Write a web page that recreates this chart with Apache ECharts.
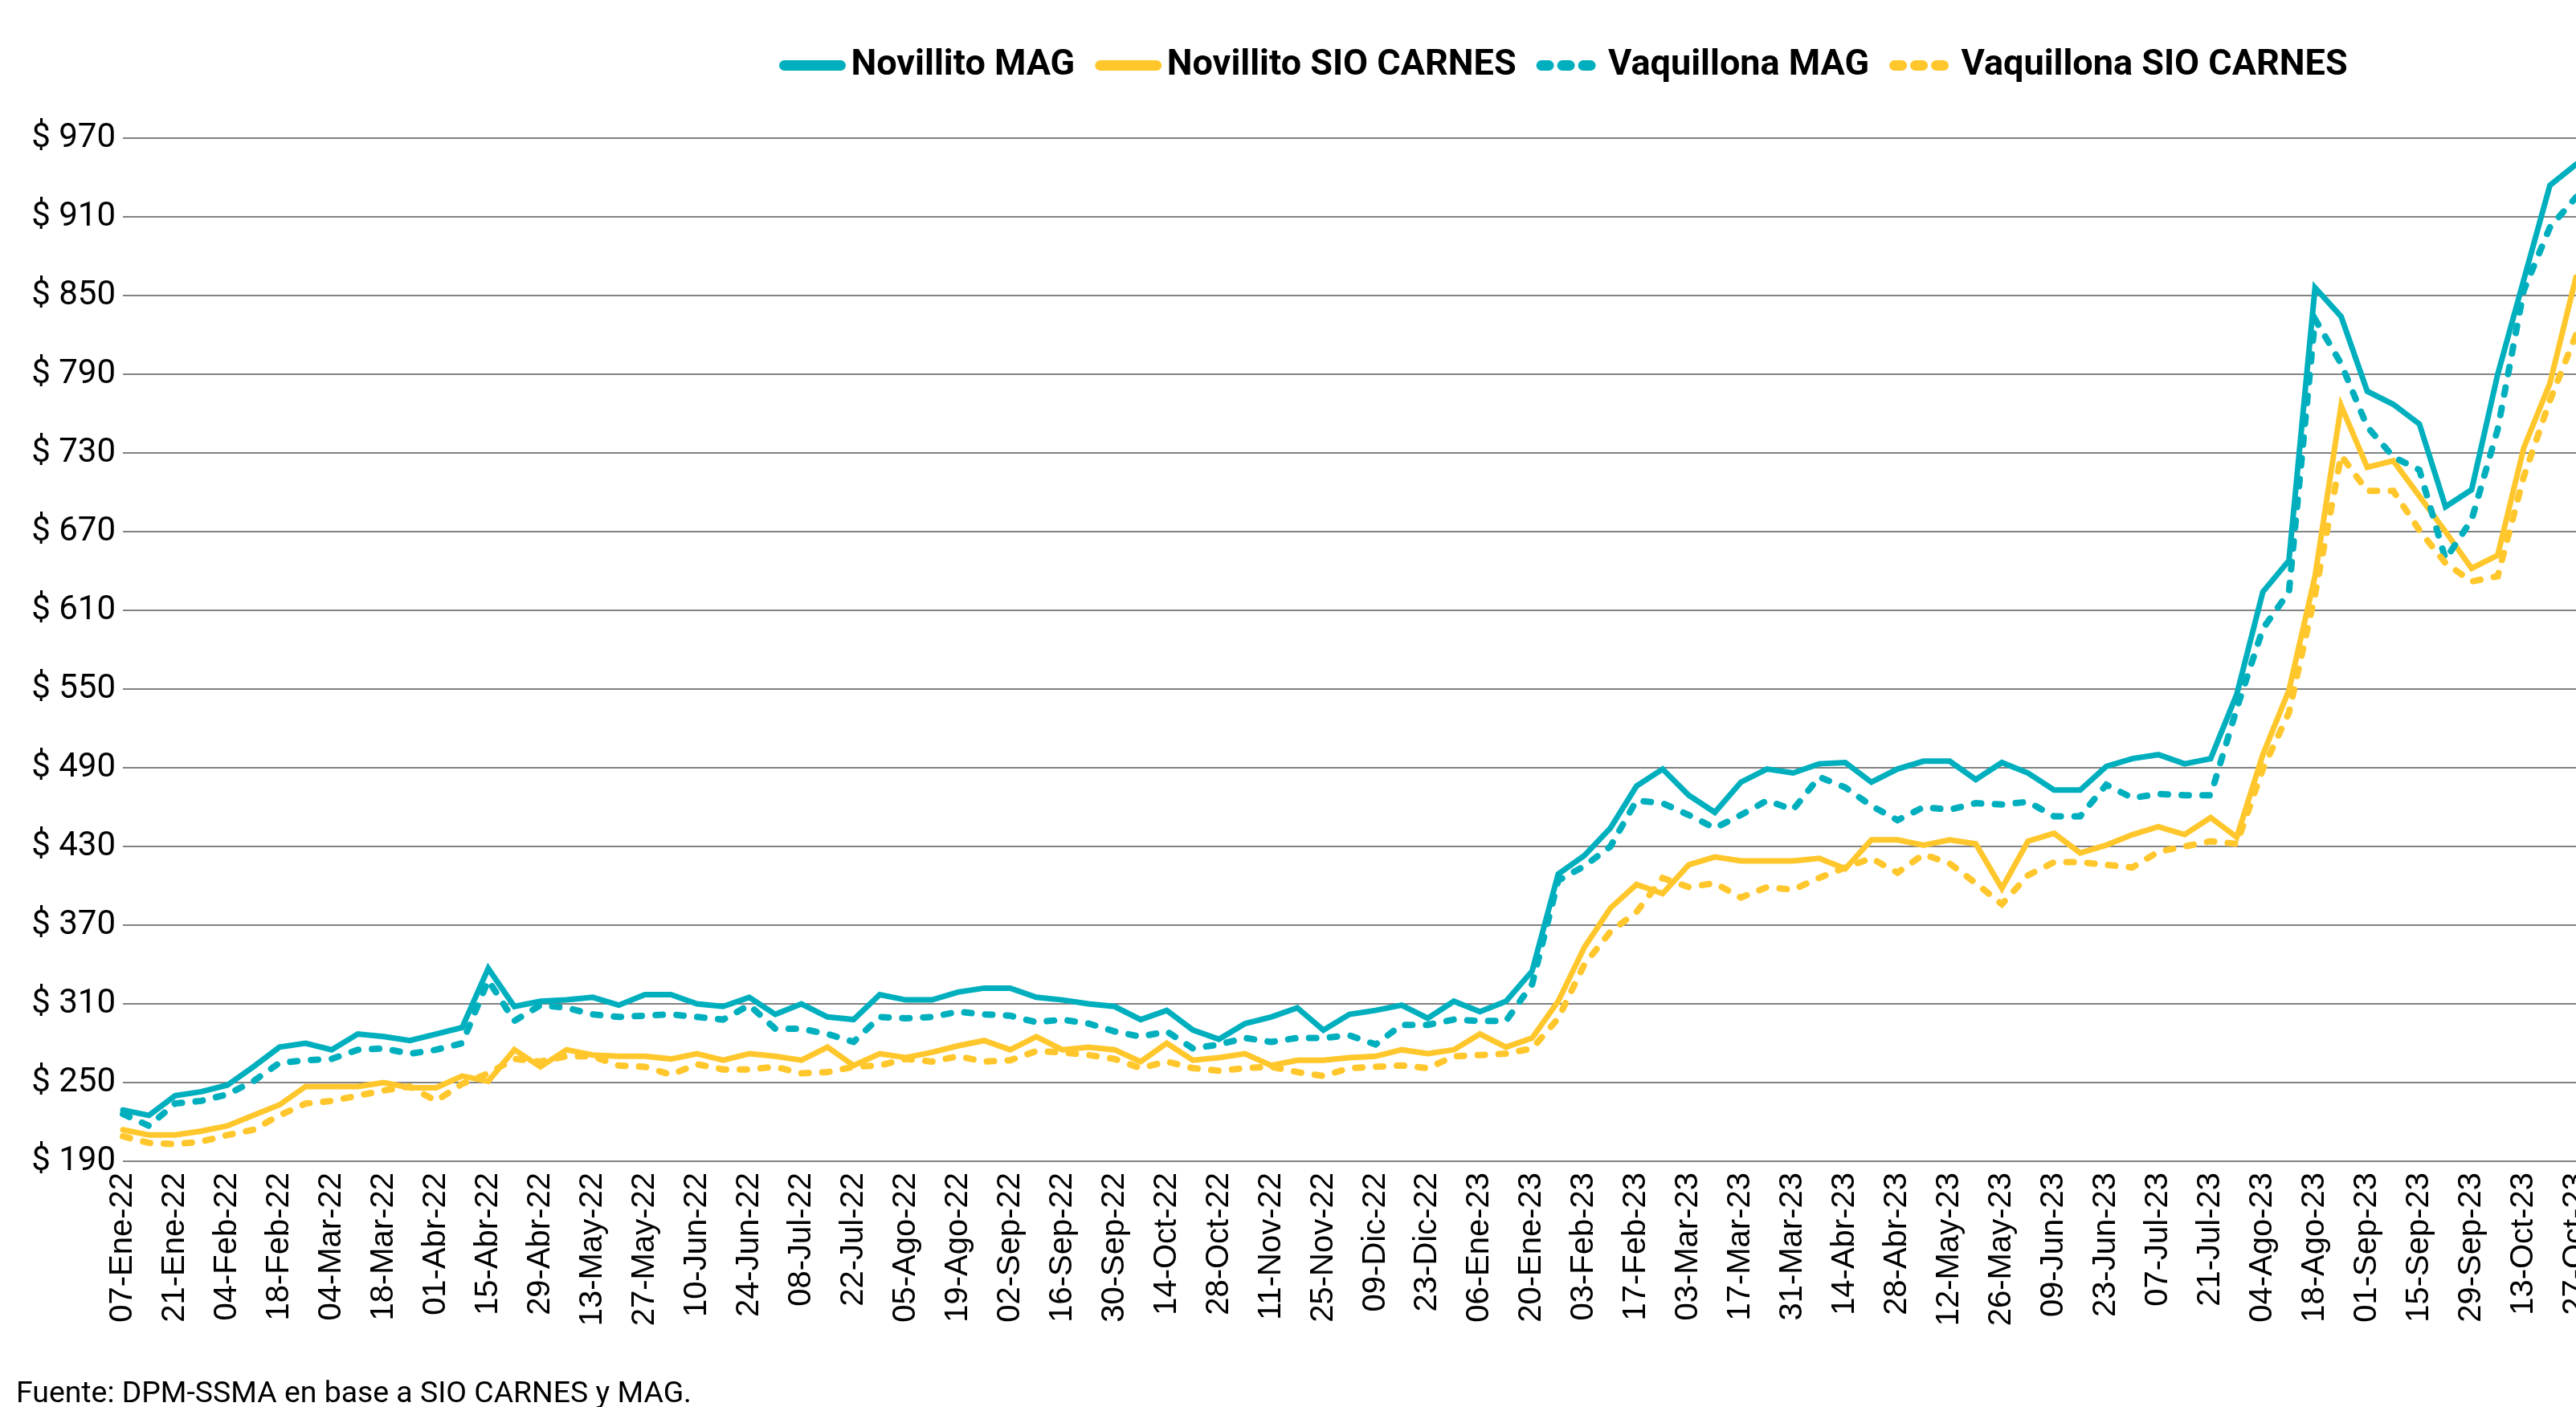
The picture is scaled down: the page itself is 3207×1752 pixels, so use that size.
<!DOCTYPE html>
<html>
<head>
<meta charset="utf-8">
<title>Precios Novillito y Vaquillona</title>
<script src="https://cdn.jsdelivr.net/npm/echarts@6/dist/echarts.min.js"></script>
<style>
  html, body { margin: 0; padding: 0; background: #fff; overflow: hidden; }
  #chart1 { width: 3207px; height: 1752px; }
</style>
</head>
<body>
<div id="chart1"></div>
<script>
// semanas (viernes)
var fechas = [
  "07-Ene-22", "14-Ene-22", "21-Ene-22", "28-Ene-22", "04-Feb-22", "11-Feb-22", "18-Feb-22", "25-Feb-22",
  "04-Mar-22", "11-Mar-22", "18-Mar-22", "25-Mar-22", "01-Abr-22", "08-Abr-22", "15-Abr-22", "22-Abr-22",
  "29-Abr-22", "06-May-22", "13-May-22", "20-May-22", "27-May-22", "03-Jun-22", "10-Jun-22", "17-Jun-22",
  "24-Jun-22", "01-Jul-22", "08-Jul-22", "15-Jul-22", "22-Jul-22", "29-Jul-22", "05-Ago-22", "12-Ago-22",
  "19-Ago-22", "26-Ago-22", "02-Sep-22", "09-Sep-22", "16-Sep-22", "23-Sep-22", "30-Sep-22", "07-Oct-22",
  "14-Oct-22", "21-Oct-22", "28-Oct-22", "04-Nov-22", "11-Nov-22", "18-Nov-22", "25-Nov-22", "02-Dic-22",
  "09-Dic-22", "16-Dic-22", "23-Dic-22", "30-Dic-22", "06-Ene-23", "13-Ene-23", "20-Ene-23", "27-Ene-23",
  "03-Feb-23", "10-Feb-23", "17-Feb-23", "24-Feb-23", "03-Mar-23", "10-Mar-23", "17-Mar-23", "24-Mar-23",
  "31-Mar-23", "07-Abr-23", "14-Abr-23", "21-Abr-23", "28-Abr-23", "05-May-23", "12-May-23", "19-May-23",
  "26-May-23", "02-Jun-23", "09-Jun-23", "16-Jun-23", "23-Jun-23", "30-Jun-23", "07-Jul-23", "14-Jul-23",
  "21-Jul-23", "28-Jul-23", "04-Ago-23", "11-Ago-23", "18-Ago-23", "25-Ago-23", "01-Sep-23", "08-Sep-23",
  "15-Sep-23", "22-Sep-23", "29-Sep-23", "06-Oct-23", "13-Oct-23", "20-Oct-23", "27-Oct-23"
];

var novillitoMag = [
  229, 225, 240, 243, 248, 262, 277, 280, 275, 287, 285, 282, 287, 292, 337, 308,
  312, 313, 315, 309, 317, 317, 310, 308, 315, 302, 310, 300, 298, 317, 313, 313,
  319, 322, 322, 315, 313, 310, 308, 298, 305, 290, 283, 295, 300, 307, 290, 302,
  305, 309, 299, 312, 304, 312, 335, 409, 423, 444, 476, 489, 469, 456, 479, 489,
  486, 493, 494, 479, 489, 495, 495, 481, 494, 486, 473, 473, 491, 497, 500, 493,
  497, 546, 624, 648, 856, 834, 777, 767, 752, 689, 702, 790, 862, 934, 950
];

var novillitoSio = [
  214, 210, 210, 213, 217, 225, 233, 247, 247, 247, 250, 246, 246, 255, 251, 275,
  262, 275, 271, 270, 270, 268, 272, 267, 272, 270, 267, 277, 263, 272, 269, 273,
  278, 282, 275, 285, 275, 277, 275, 266, 280, 267, 269, 272, 263, 267, 267, 269,
  270, 275, 272, 275, 287, 277, 284, 312, 353, 383, 401, 394, 416, 422, 419, 419,
  419, 421, 413, 435, 435, 431, 435, 432, 398, 434, 440, 425, 431, 439, 445, 439,
  452, 437, 500, 549, 636, 766, 719, 724, 697, 670, 642, 652, 734, 783, 864
];

var vaquillonaMag = [
  226, 217, 234, 236, 241, 251, 265, 267, 268, 275, 276, 272, 275, 280, 328, 297,
  309, 307, 302, 300, 301, 302, 300, 298, 309, 291, 291, 287, 281, 300, 299, 300,
  304, 302, 301, 296, 298, 295, 289, 285, 289, 276, 279, 284, 281, 284, 284, 286,
  279, 294, 294, 298, 297, 297, 325, 404, 415, 430, 465, 463, 454, 444, 454, 465,
  458, 483, 475, 461, 450, 460, 458, 463, 462, 464, 453, 453, 477, 467, 470, 469,
  469, 535, 596, 624, 832, 798, 750, 727, 717, 649, 679, 748, 854, 902, 925
];

var vaquillonaSio = [
  209, 204, 203, 205, 210, 214, 225, 234, 236, 240, 244, 247, 236, 249, 257, 268,
  266, 270, 270, 263, 262, 256, 264, 260, 260, 262, 257, 258, 262, 263, 268, 266,
  270, 266, 267, 274, 273, 271, 268, 261, 266, 261, 259, 261, 262, 258, 255, 261,
  262, 263, 261, 270, 271, 272, 276, 299, 340, 365, 380, 406, 399, 402, 391, 399,
  397, 406, 414, 421, 410, 424, 417, 402, 386, 408, 418, 418, 416, 414, 426, 430,
  434, 432, 489, 532, 622, 728, 701, 701, 671, 646, 632, 636, 712, 770, 820
];

var yTicks = [190, 250, 310, 370, 430, 490, 550, 610, 670, 730, 790, 850, 910, 970];

var cian = "#00AFBE";
var amarillo = "#FFC72C";

function serie(nombre, datos, color, punteada) {
  return {
    name: nombre,
    type: "line",
    data: datos,
    symbol: "none",
    itemStyle: { color: color },
    lineStyle: {
      color: color,
      width: punteada ? 8 : 7,
      type: punteada ? [9, 17] : "solid",
      cap: "round",
      join: "miter"
    }
  };
}

var myChart = echarts.init(document.getElementById("chart1"));
myChart.setOption({
  animation: false,
  title: {
    text: "Fuente: DPM-SSMA en base a SIO CARNES y MAG.",
    left: 20,
    top: 1718,
    padding: 0,
    textStyle: {
      fontFamily: "Roboto",
      fontWeight: "normal",
      fontSize: 37.4,
      color: "#000"
    }
  },
  legend: {
    left: 965,
    top: 54,
    itemWidth: 70,
    itemHeight: 14,
    itemGap: 25,
    lineStyle: { width: 13, cap: "round" },
    textStyle: {
      fontFamily: "Roboto",
      fontWeight: "bold",
      fontSize: 45,
      color: "#000",
      padding: [0, 0, 0, 8]
    },
    data: ["Novillito MAG", "Novillito SIO CARNES", "Vaquillona MAG", "Vaquillona SIO CARNES"]
  },
  grid: {
    left: 153,
    right: 0,
    top: 172,
    bottom: 306,
    outerBoundsMode: "none"
  },
  xAxis: {
    type: "category",
    boundaryGap: false,
    data: fechas,
    axisLine: { show: false },
    axisTick: { show: false },
    splitLine: { show: false },
    axisLabel: {
      interval: 1,
      rotate: 90,
      margin: 14,
      fontFamily: "Liberation Sans",
      fontSize: 40,
      color: "#000"
    }
  },
  yAxis: [
    {
      // escala de los datos
      type: "value",
      min: yTicks[0],
      max: yTicks[yTicks.length - 1],
      show: false
    },
    {
      // grilla y etiquetas cada 60
      type: "value",
      min: 0,
      max: yTicks.length - 1,
      interval: 1,
      position: "left",
      axisLine: { show: false },
      axisTick: { show: false },
      axisLabel: {
        margin: 9,
        fontFamily: "Roboto",
        fontSize: 42,
        color: "#000",
        formatter: function(v) {
          return "$ " + yTicks[v];
        }
      },
      splitLine: { lineStyle: { color: "#595959", width: 1.5 } }
    }
  ],
  series: [
    serie("Novillito MAG", novillitoMag, cian, false),
    serie("Novillito SIO CARNES", novillitoSio, amarillo, false),
    serie("Vaquillona MAG", vaquillonaMag, cian, true),
    serie("Vaquillona SIO CARNES", vaquillonaSio, amarillo, true)
  ]
});
</script>
</body>
</html>
